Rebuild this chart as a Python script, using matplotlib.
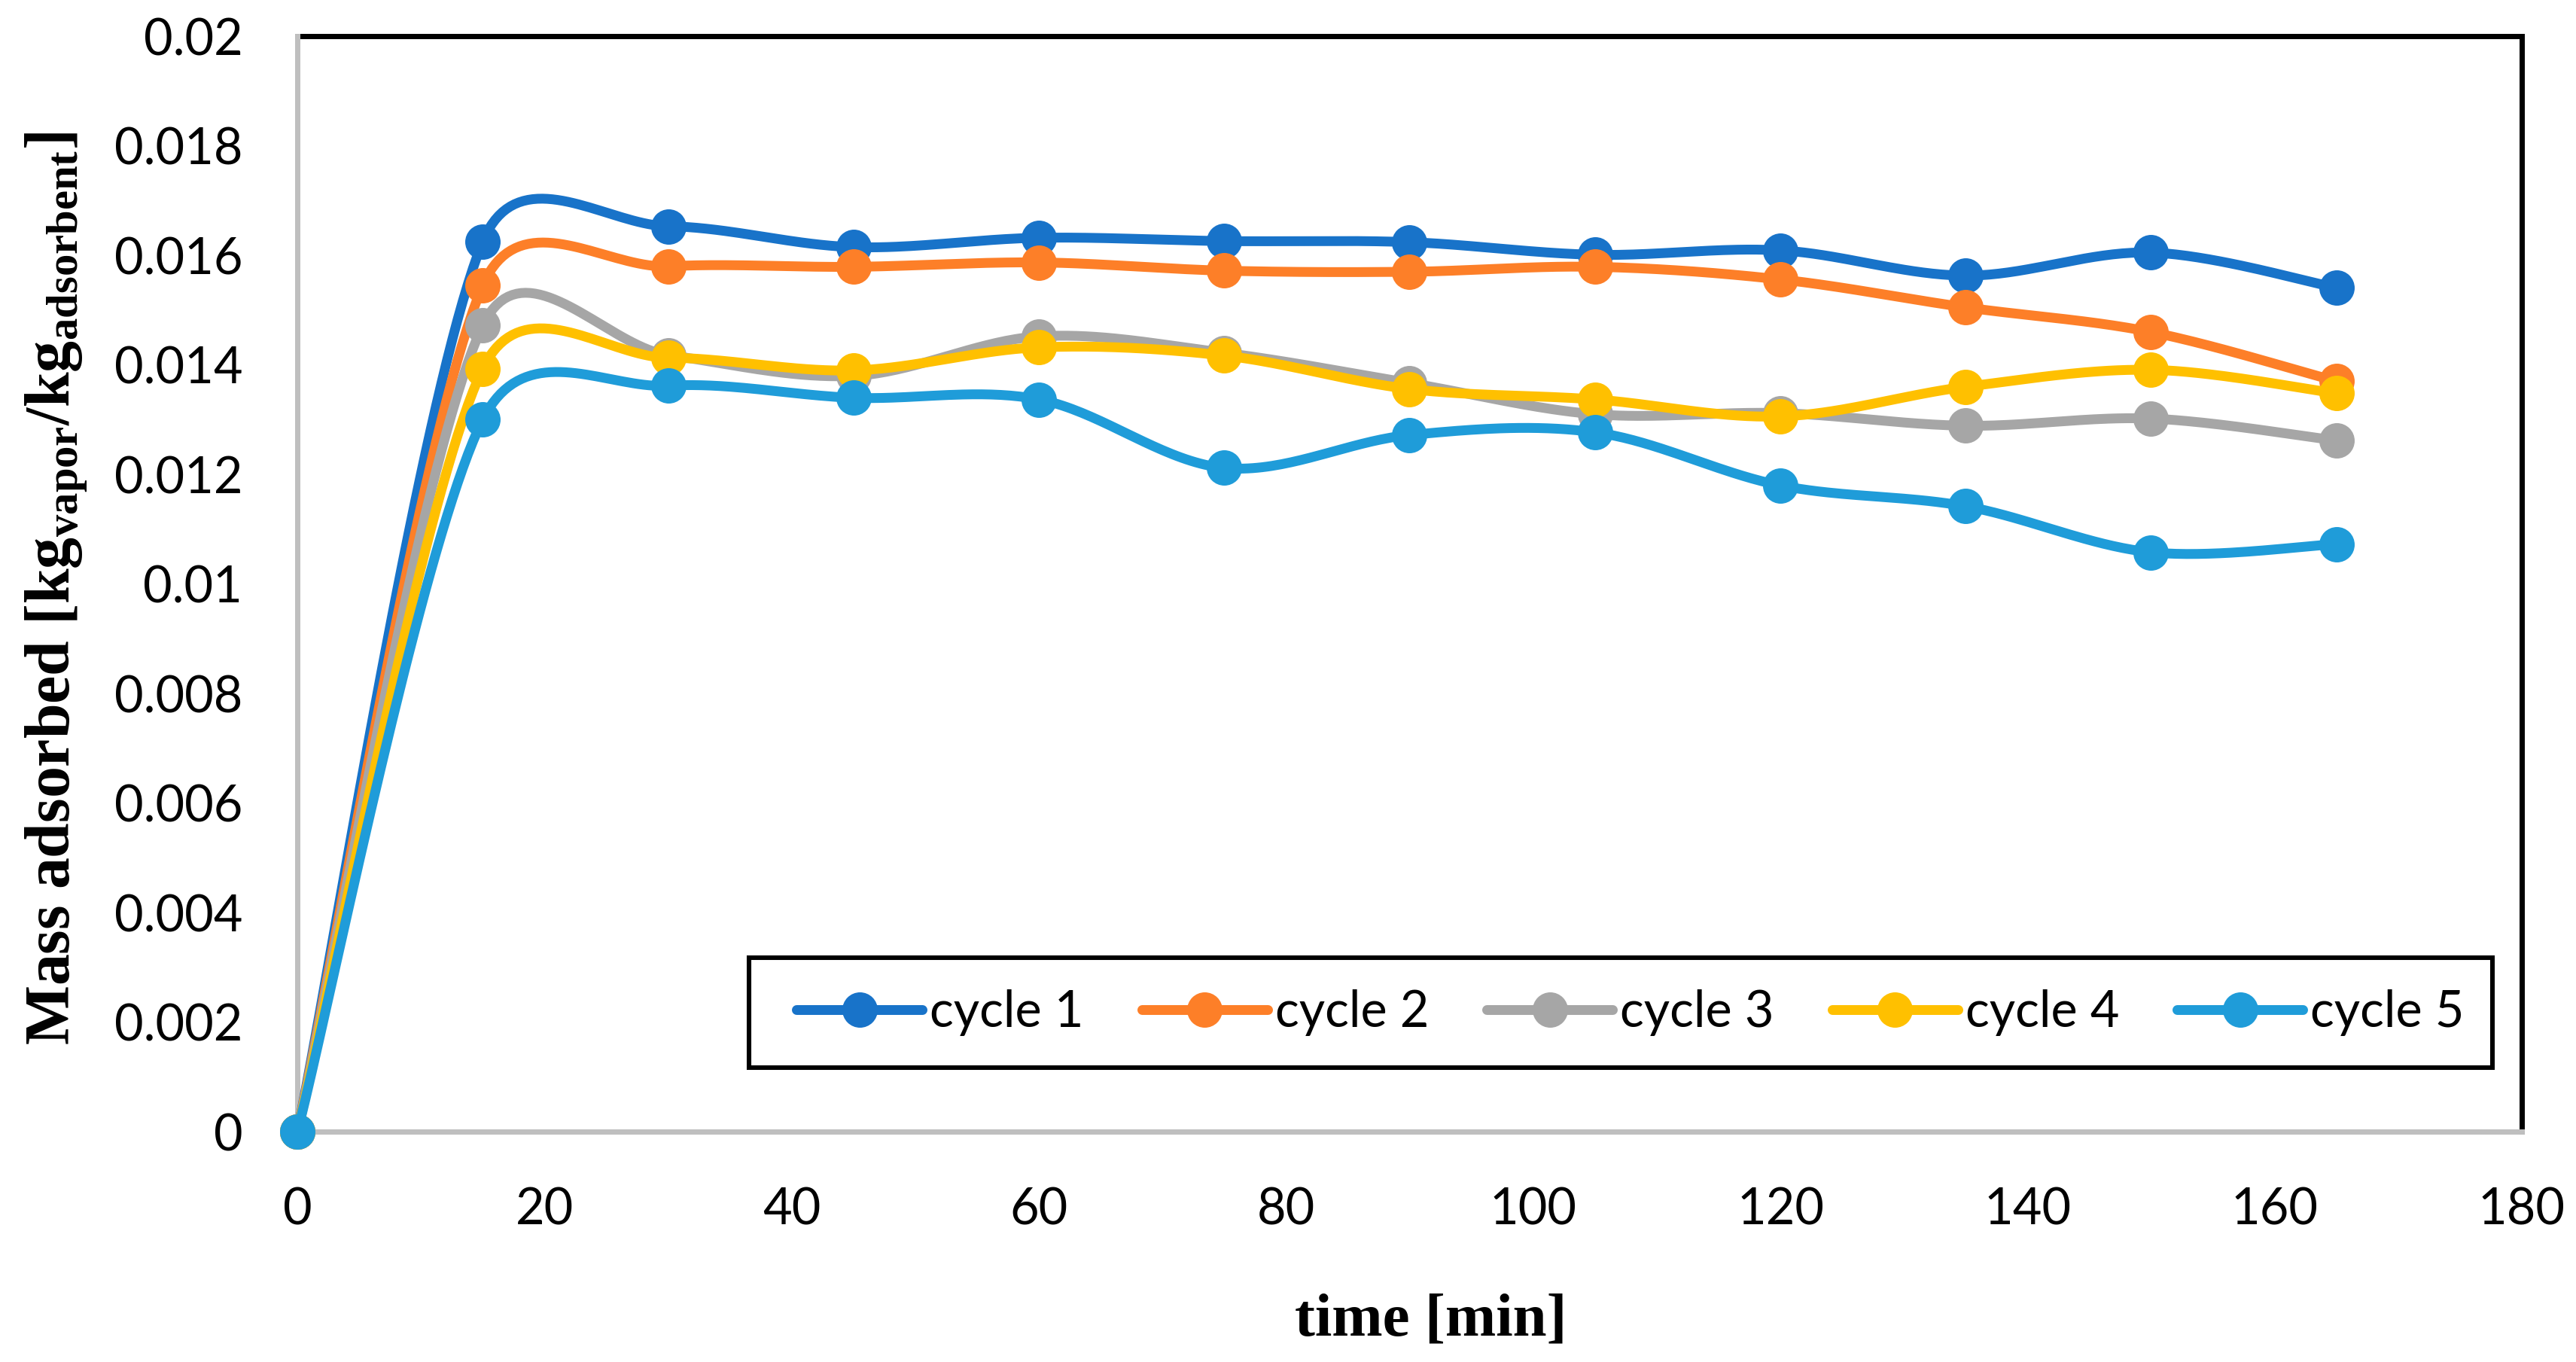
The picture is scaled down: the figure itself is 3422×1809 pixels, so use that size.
import numpy as np
import matplotlib
matplotlib.use("Agg")
import matplotlib.pyplot as plt
from matplotlib.lines import Line2D
from matplotlib.patches import Rectangle
from matplotlib.ticker import FuncFormatter

plt.rcParams["mathtext.fontset"] = "custom"
plt.rcParams["mathtext.bf"] = "Liberation Serif:bold"
plt.rcParams["mathtext.rm"] = "Liberation Serif:bold"
plt.rcParams["mathtext.it"] = "Liberation Serif:bold"

# ---------------- data ----------------
time_min = [0, 15, 30, 45, 60, 75, 90, 105, 120, 135, 150, 165]
cycle1 = [0, 0.01625, 0.01653, 0.01615, 0.01632, 0.01626, 0.01624, 0.01601, 0.01609, 0.01563, 0.01605, 0.01541]
cycle2 = [0, 0.01545, 0.01580, 0.01579, 0.01587, 0.01572, 0.01570, 0.01579, 0.01556, 0.01505, 0.01460, 0.01370]
cycle3 = [0, 0.01472, 0.01418, 0.01380, 0.01452, 0.01422, 0.01367, 0.01310, 0.01312, 0.01289, 0.01302, 0.01262]
cycle4 = [0, 0.01393, 0.01413, 0.01390, 0.01432, 0.01417, 0.01356, 0.01337, 0.01306, 0.01360, 0.01391, 0.01348]
cycle5 = [0, 0.01300, 0.01362, 0.01340, 0.01337, 0.01212, 0.01272, 0.01277, 0.01180, 0.01142, 0.01058, 0.01073]
series_names = ["cycle 1", "cycle 2", "cycle 3", "cycle 4", "cycle 5"]
series_values = [cycle1, cycle2, cycle3, cycle4, cycle5]
colors = ["#1873C9", "#FD7F28", "#A6A6A6", "#FFC000", "#1F9CD9"]
x_ticks = list(range(0, 181, 20))
y_ticks = [0, 0.002, 0.004, 0.006, 0.008, 0.01, 0.012, 0.014, 0.016, 0.018, 0.02]
x_label = "time [min]"
y_label = r"Mass adsorbed [kg$_{\mathbf{vapor}}$/kg$_{\mathbf{adsorbent}}$]"

# ---------------- figure ----------------
DPI = 218.24
fig = plt.figure(figsize=(3422 / DPI, 1809 / DPI), dpi=DPI)
W, H = 1568.0, 829.0
S = 3422 / W  # output px per reference display px
AX_L, AX_R, AX_T, AX_B = 181, 1535, 22, 689
ax = fig.add_axes([AX_L / W, (H - AX_B) / H, (AX_R - AX_L) / W, (AX_B - AX_T) / H])
ax.set_xlim(0, 180)
ax.set_ylim(0, 0.02)


def ax_x(px):
    return (px - AX_L) / (AX_R - AX_L)


def ax_y(py):
    return (AX_B - py) / (AX_B - AX_T)


tick_font = "Lato"
ax.set_xticks(x_ticks)
ax.set_yticks(y_ticks)
ax.xaxis.set_major_formatter(FuncFormatter(lambda v, p: f"{v:g}"))
ax.yaxis.set_major_formatter(FuncFormatter(lambda v, p: "0" if v == 0 else f"{v:.3f}".rstrip("0")))
ax.tick_params(axis="both", length=0, labelsize=22, pad=24)
for lab in ax.get_xticklabels() + ax.get_yticklabels():
    lab.set_fontfamily(tick_font)

for side in ["top", "right"]:
    ax.spines[side].set_color("black")
    ax.spines[side].set_linewidth(2.3)
for side in ["left", "bottom"]:
    ax.spines[side].set_color("#BFBFBF")
    ax.spines[side].set_linewidth(2.3)
    ax.spines[side].set_zorder(3)


def excel_smooth(xs, ys, n=40):
    """Smoothed path (Bezier through points) computed in display space."""
    pts = ax.transData.transform(np.column_stack([xs, ys]))
    m = len(pts)
    out = [pts[0]]
    for i in range(m - 1):
        p0 = pts[max(i - 1, 0)]
        p1 = pts[i]
        p2 = pts[i + 1]
        p3 = pts[min(i + 2, m - 1)]
        d = np.hypot(*(p2 - p1))
        a1 = (p2 - p0) / 6.0
        a2 = (p3 - p1) / 6.0
        l1 = np.hypot(*a1)
        l2 = np.hypot(*a2)
        if l1 > d / 2:
            a1 = a1 * (d / 2) / l1
        if l2 > d / 2:
            a2 = a2 * (d / 2) / l2
        c1 = p1 + a1
        c2 = p2 - a2
        t = np.linspace(0, 1, n)[1:, None]
        seg = ((1 - t) ** 3) * p1 + 3 * ((1 - t) ** 2) * t * c1 + 3 * (1 - t) * t ** 2 * c2 + t ** 3 * p2
        out.extend(seg)
    out = np.array(out)
    return ax.transData.inverted().transform(out)


LW = 4.3
MS = 15.5
handles = []
for k, (name, vals, col) in enumerate(zip(series_names, series_values, colors)):
    curve = excel_smooth(time_min, vals)
    ax.plot(curve[:, 0], curve[:, 1], color=col, lw=LW, solid_capstyle="round",
            zorder=4 + k, clip_on=False)
    ax.plot(time_min, vals, linestyle="none", marker="o", markersize=MS, color=col,
            markeredgewidth=0, zorder=4 + k, clip_on=False)
    handles.append(Line2D([], [], color=col, lw=LW, marker="o", markersize=MS,
                          markeredgewidth=0, solid_capstyle="round", label=name))

# legend box (frame drawn separately so the entries can sit with Excel-like padding)
box_l, box_r, box_t, box_b = 456, 1517, 583, 650
frame = Rectangle((ax_x(box_l), ax_y(box_b)), ax_x(box_r) - ax_x(box_l), ax_y(box_t) - ax_y(box_b),
                  transform=ax.transAxes, facecolor="white", edgecolor="black", lw=2.0,
                  zorder=19, clip_on=False)
ax.add_patch(frame)
leg = ax.legend(handles=handles, loc="center", ncol=5,
                bbox_to_anchor=(ax_x(485), ax_y(box_b), ax_x(1500) - ax_x(485), ax_y(box_t) - ax_y(box_b)),
                mode="expand", borderaxespad=0, frameon=False, borderpad=0.0,
                handlelength=2.5, handletextpad=0.15, columnspacing=1.0,
                prop={"family": tick_font, "size": 22})
leg.set_zorder(20)

# axis titles
ytxt = fig.text(35 / W, 1 - 358 / H, y_label, rotation=90, ha="center", va="center",
                fontfamily="Liberation Serif", fontweight="bold", fontsize=26)
xtxt = fig.text(871 / W, 1 - 804 / H, x_label, ha="center", va="center",
                fontfamily="Liberation Serif", fontweight="bold", fontsize=27)
fig.canvas.draw()
r = fig.canvas.get_renderer()
hy = ytxt.get_window_extent(r).height
ytxt.set_fontsize(26 * (556 * S) / hy)
wx = xtxt.get_window_extent(r).width
xtxt.set_fontsize(27 * (166 * S) / wx)

fig.savefig("out.png", dpi=DPI)
